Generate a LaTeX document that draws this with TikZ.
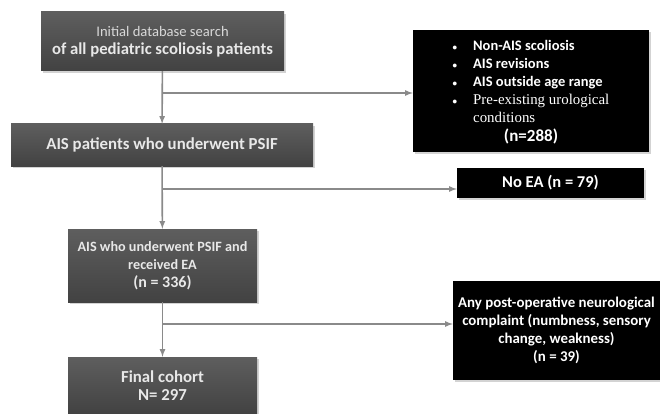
\documentclass[tikz,border=0pt]{standalone}
\usepackage{fontspec}
\setmainfont{Carlito}
\newfontfamily\timesfont{Liberation Serif}
\usepackage{tikz}
\usetikzlibrary{positioning}
\usetikzlibrary{shadows}

\definecolor{boxtop}{HTML}{5E5E5E}
\definecolor{boxbottom}{HTML}{424242}
\definecolor{boxtext}{HTML}{E8E8E8}
\definecolor{linegray}{HTML}{8A8A8A}

\newcommand{\fsize}[1]{\fontsize{#1}{18}\selectfont}
\newcommand{\smallbullet}{{\fontsize{9}{18}\selectfont\textbullet}}

\begin{document}
\begin{tikzpicture}
    [
    x=1pt,y=1pt,
    stepbox/.style={top color=boxtop,bottom color=boxbottom,text=boxtext,align=center,inner sep=0pt,
      font=\bfseries\fsize{16.8},
      drop shadow={opacity=0.35,shadow xshift=2pt,shadow yshift=-2pt}},
    exclbox/.style={fill=black,text=white,align=center,inner sep=0pt,
      font=\bfseries\fsize{14.9},
      drop shadow={opacity=0.35,shadow xshift=2pt,shadow yshift=-2pt}},
    flow/.style={draw=linegray,line width=1.6pt,-latex},
    ]
    \useasboundingbox (0,0) rectangle (660,-414);

    \node (init) at (162.5,-41.5) [stepbox,minimum width=243,minimum height=59]
      {{\mdseries\fontsize{14.6}{17}\selectfont\color{boxtext!85!gray}Initial database search}\\{\fontsize{16.7}{17}\selectfont of all pediatric scoliosis patients}};
    \node (ais) at (162,-145) [stepbox,minimum width=302,minimum height=42]
      {AIS patients who underwent PSIF};
    \node (ea) at (162.5,-265.5) [stepbox,minimum width=189,minimum height=73,font=\bfseries\fsize{14.2}]
      {AIS who underwent PSIF and\\received EA\\{\fsize{16}(n = 336)}};
    \node (final) at (162.5,-385.5) [stepbox,minimum width=189,minimum height=57]
      {Final cohort\\N= 297};

    \node (excl) at (531,-91) [exclbox,minimum width=236,minimum height=122,font=\bfseries\fsize{14.5}]
      {\begin{tabular}{@{}l@{\hspace{16pt}}l@{}}
        \smallbullet & Non-AIS scoliosis\\
        \smallbullet & AIS revisions\\
        \smallbullet & AIS outside age range\\
        \smallbullet & {\timesfont\mdseries\fsize{14.9}Pre-existing urological}\\
                     & {\timesfont\mdseries\fsize{14.9}conditions}
       \end{tabular}\\{\fsize{17}(n=288)}};
    \node (noea) at (550.5,-183) [exclbox,minimum width=187,minimum height=30,font=\bfseries\fsize{16.5}]
      {No EA (n = 79)};
    \node (neuro) at (556.5,-330.5) [exclbox,minimum width=207,minimum height=99]
      {Any post-operative neurological\\complaint (numbness, sensory\\change, weakness)\\(n = 39)};

    \coordinate (b1) at (162,-93);
    \coordinate (b2) at (162,-189);
    \coordinate (b3) at (162,-324);

    \draw [flow] (init) to (ais);
    \draw [flow] (ais) to (ea);
    \draw [flow] (ea) to (final);
    \draw [flow] (b1) to (b1 -| excl.west);
    \draw [flow] (b2) to (b2 -| noea.west);
    \draw [flow] (b3) to (b3 -| neuro.west);
  \end{tikzpicture}
\end{document}
